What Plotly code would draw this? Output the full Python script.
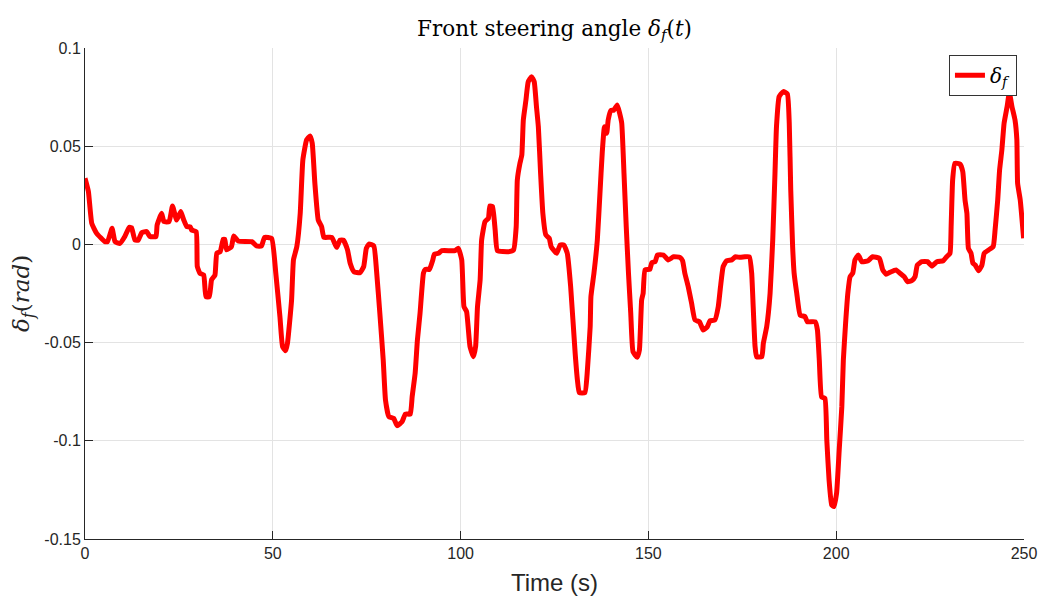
import plotly.graph_objects as go

# Front steering angle samples (time in s, angle in rad)
time_s = [
    0.0, 0.9, 1.8, 3.1, 5.3, 6.0, 7.2, 8.0, 9.3, 10.6, 11.8, 12.4, 13.3, 14.2, 15.1, 16.4,
    17.3, 18.9, 19.2, 20.4, 21.0, 22.4, 23.3, 24.4, 25.5, 26.3, 27.1, 28.0, 28.4, 29.6,
    29.9, 30.6, 31.6, 32.2, 33.1, 33.7, 34.6, 35.1, 36.0, 36.8, 37.2, 37.7, 39.0, 39.6,
    40.8, 44.4, 45.7, 47.0, 47.8, 49.7, 50.8, 51.9, 52.6, 53.4, 53.9, 55.0, 55.5, 56.4,
    57.3, 58.0, 59.0, 59.9, 60.5, 61.2, 62.1, 63.0, 63.6, 65.7, 67.0, 67.9, 68.8, 69.9,
    70.6, 71.6, 73.2, 74.2, 74.9, 75.6, 76.9, 77.6, 78.5, 79.4, 80.0, 80.9, 82.2, 83.1,
    84.4, 85.3, 86.6, 87.1, 87.9, 88.5, 89.2, 90.1, 90.6, 91.7, 92.6, 93.0, 94.1, 95.0,
    98.5, 99.4, 100.3, 100.9, 101.6, 102.5, 103.4, 104.0, 104.5, 105.2, 105.6, 106.5,
    107.4, 107.8, 108.5, 109.2, 109.8, 112.7, 114.1, 114.8, 115.1, 115.8, 116.3, 116.7,
    117.4, 118.0, 118.9, 119.6, 120.2, 120.7, 121.3, 121.9, 122.7, 123.6, 124.1, 125.6,
    126.5, 127.5, 128.4, 129.3, 130.5, 131.1, 131.6, 133.1, 133.7, 134.5, 134.7, 135.5,
    136.4, 137.1, 137.7, 138.3, 138.9, 139.3, 140.0, 140.8, 141.7, 142.3, 142.9, 143.5,
    144.1, 144.7, 145.3, 145.9, 147.0, 147.6, 148.2, 148.6, 149.1, 150.4, 150.9, 151.8,
    152.4, 154.0, 155.3, 156.7, 158.4, 159.1, 159.7, 160.6, 161.5, 162.4, 163.6, 164.6,
    165.7, 166.4, 167.7, 168.6, 169.2, 169.9, 170.8, 172.2, 173.1, 174.4, 175.7, 176.9,
    177.5, 177.9, 178.4, 178.8, 180.2, 180.6, 181.5, 182.4, 183.1, 183.7, 184.1, 184.8,
    185.9, 187.0, 187.5, 187.9, 188.4, 188.8, 189.5, 190.4, 191.7, 192.3, 194.4, 195.0,
    195.5, 196.1, 197.0, 197.5, 198.1, 198.8, 199.4, 200.1, 200.8, 201.5, 201.9, 202.5,
    203.1, 203.7, 204.4, 205.0, 205.9, 206.8, 208.5, 209.7, 211.5, 212.4, 213.3, 214.3,
    215.9, 217.0, 218.1, 219.0, 220.1, 221.0, 221.6, 222.8, 224.3, 225.5, 226.8, 228.5,
    229.4, 230.3, 230.6, 231.0, 231.6, 233.0, 233.7, 234.3, 234.8, 235.2, 235.9, 236.4,
    237.0, 237.9, 238.8, 239.4, 240.6, 241.8, 242.3, 243.0, 243.5, 244.1, 244.7, 245.5,
    246.1, 246.8, 247.6, 248.1, 248.3, 249.0, 249.9,
]
delta_f = [
    0.0337, 0.027, 0.0107, 0.0056, 0.0014, 0.0014, 0.0082, 0.0014, 0.0005, 0.004, 0.0087,
    0.0085, 0.0022, 0.0022, 0.006, 0.0065, 0.004, 0.004, 0.0099, 0.0158, 0.0116, 0.0116,
    0.0196, 0.0124, 0.0167, 0.0124, 0.009, 0.009, 0.0073, 0.0065, -0.0113, -0.0147,
    -0.0156, -0.0266, -0.0266, -0.018, -0.0156, -0.0045, -0.0037, 0.0026, 0.0026, -0.0028,
    -0.0011, 0.0043, 0.0017, 0.0014, -0.0008, -0.0008, 0.0036, 0.0030, -0.0147, -0.0368,
    -0.052, -0.0541, -0.0504, -0.0283, -0.0079, -0.0011, 0.0158, 0.043, 0.0532, 0.0552,
    0.0515, 0.0311, 0.0124, 0.009, 0.0036, 0.0036, -0.0015, 0.0022, 0.0022, -0.0028,
    -0.0096, -0.0139, -0.0144, -0.0113, -0.002, 0.0002, -0.0008, -0.013, -0.0351, -0.0589,
    -0.0792, -0.0877, -0.0886, -0.0923, -0.0903, -0.0864, -0.0864, -0.0776, -0.0656,
    -0.0487, -0.0351, -0.0147, -0.0127, -0.0127, -0.0079, -0.005, -0.0045, -0.0032,
    -0.0032, -0.002, -0.0079, -0.0317, -0.0343, -0.052, -0.0572, -0.052, -0.0317, -0.0181,
    0.0022, 0.0116, 0.0133, 0.0196, 0.0192, 0.0073, -0.0032, -0.0037, -0.0028, 0.009,
    0.0328, 0.0413, 0.0455, 0.0634, 0.0735, 0.0828, 0.0854, 0.0828, 0.0701, 0.0599,
    0.0362, 0.0158, 0.0048, 0.0031, -0.0011, -0.0045, -0.0003, -0.0003, -0.0045, -0.0215,
    -0.0554, -0.069, -0.0755, -0.0755, -0.0656, -0.0419, -0.0266, -0.0147, 0.0022, 0.026,
    0.0464, 0.0599, 0.0566, 0.0634, 0.0681, 0.0684, 0.071, 0.0671, 0.0617, 0.0362, 0.009,
    -0.0147, -0.0351, -0.0546, -0.0575, -0.0538, -0.0283, -0.0249, -0.013, -0.0127,
    -0.0093, -0.0088, -0.0054, -0.0054, -0.0079, -0.0063, -0.0066, -0.0083, -0.0147,
    -0.0215, -0.03, -0.0385, -0.0394, -0.0436, -0.0419, -0.0389, -0.0385, -0.0317,
    -0.0215, -0.0113, -0.0083, -0.0079, -0.0063, -0.0066, -0.0063, -0.0063, -0.0147,
    -0.0317, -0.052, -0.0572, -0.0572, -0.0504, -0.0419, -0.0249, 0.0022, 0.0362, 0.0599,
    0.0752, 0.0778, 0.0766, 0.0617, 0.0277, -0.0011, -0.0147, -0.0249, -0.036, -0.0368,
    -0.0394, -0.0394, -0.0436, -0.0589, -0.0776, -0.0784, -0.0996, -0.1199, -0.1327,
    -0.1335, -0.1267, -0.1047, -0.0826, -0.0589, -0.0402, -0.0249, -0.0164, -0.0147,
    -0.0079, -0.0054, -0.0088, -0.0083, -0.0063, -0.0071, -0.013, -0.0152, -0.0142,
    -0.013, -0.0147, -0.0164, -0.019, -0.0185, -0.0164, -0.0105, -0.0088, -0.0088, -0.011,
    -0.0088, -0.0083, -0.0063, -0.0045, 0.009, 0.0328, 0.0413, 0.0409, 0.037, 0.0226,
    0.0158, -0.002, -0.0045, -0.0096, -0.0105, -0.0134, -0.0105, -0.0045, -0.0028,
    -0.0011, 0.0073, 0.0226, 0.0379, 0.048, 0.0617, 0.0701, 0.0773, 0.0701, 0.0634,
    0.0532, 0.0311, 0.0226, 0.0031,
]

x_ticks = [0, 50, 100, 150, 200, 250]
x_tick_text = ["0", "50", "100", "150", "200", "250"]
y_ticks = [-0.15, -0.1, -0.05, 0, 0.05, 0.1]
y_tick_text = ["-0.15", "-0.1", "-0.05", "0", "0.05", "0.1"]

SERIF = "DejaVu Serif, Liberation Serif, serif"
SANS = "Liberation Sans, Arial, sans-serif"

fig = go.Figure()
fig.add_trace(go.Scatter(
    x=time_s, y=delta_f, mode="lines",
    name="<i>δ</i><sub><i>f</i></sub>",
    line=dict(color="#ff0000", width=5, shape="spline", smoothing=0.4),
))

axis_common = dict(
    showgrid=True, gridcolor="#e3e3e3", gridwidth=1,
    showline=True, linecolor="#262626", linewidth=1,
    ticks="inside", ticklen=8, tickcolor="#262626", tickwidth=1,
    zeroline=False, mirror=False, automargin=False,
    tickfont=dict(family=SANS, size=16, color="#262626"),
)

fig.update_layout(
    width=1040, height=599,
    margin=dict(l=85, r=16, t=48, b=60),
    paper_bgcolor="white", plot_bgcolor="white",
    title=dict(
        text="Front steering angle <i>δ</i><sub><i>f</i></sub>(<i>t</i>)",
        x=(85 + 1024) / 2 / 1040, xanchor="center",
        y=1 - 28 / 599, yanchor="middle",
        font=dict(family=SERIF, size=21.5, color="#000000"),
    ),
    xaxis=dict(
        range=[0, 250], tickvals=x_ticks, ticktext=x_tick_text,
        title=dict(text="Time (s)", font=dict(family=SANS, size=24, color="#262626"), standoff=12),
        **axis_common,
    ),
    yaxis=dict(
        range=[-0.15, 0.1], tickvals=y_ticks, ticktext=y_tick_text,
        title=dict(text="<i>δ</i><sub><i>f</i></sub>(<i>rad</i>)",
                   font=dict(family=SERIF, size=23, color="#262626"), standoff=8),
        **axis_common,
    ),
    legend=dict(
        x=0.9925, xanchor="right", y=0.986, yanchor="top",
        bgcolor="white", bordercolor="#333333", borderwidth=1,
        font=dict(family=SERIF, size=20, color="#000000"),
        itemwidth=30, tracegroupgap=0,
    ),
    showlegend=True,
)

fig.write_html("out.html")
